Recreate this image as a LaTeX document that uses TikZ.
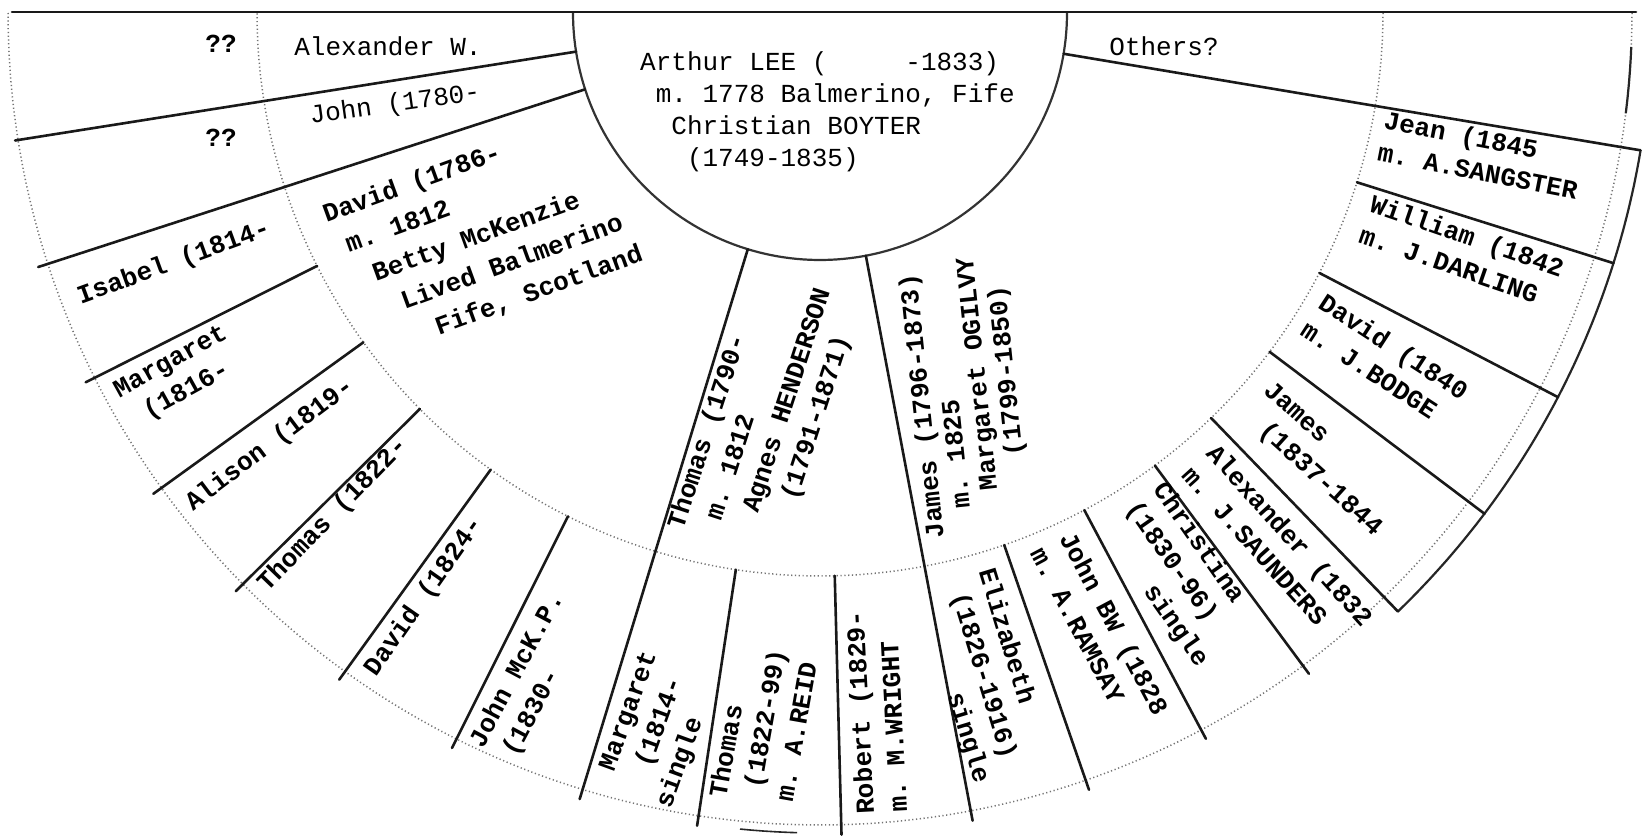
\documentclass[tikz,border=0pt]{standalone}
\usepackage{fontspec}
\newfontfamily\tw{Liberation Mono}
\newcommand\tind[1]{\hspace*{#1\dimexpr0.6em\relax}}
\begin{document}
\begin{tikzpicture}[x=1pt,y=-1pt,
  lbl/.style={font=\tw\bfseries\fontsize{26}{33}\selectfont\frenchspacing, inner sep=0pt, align=left, text=black},
  plain/.style={font=\tw\fontsize{26}{33}\selectfont\frenchspacing},
  rline/.style={line width=2.6pt, line cap=round, black!90},
  dotted ring/.style={line width=1.5pt, black!55, dash pattern=on 1.2pt off 2.6pt},
  hub/.style={line width=2.2pt, black!80},
  rim/.style={line width=2.2pt, black!85}]
\useasboundingbox (0,0) rectangle (1648,838);
\fill[white] (0,0) rectangle (1648,838);
% rings
\draw[dotted ring] plot[domain=0:180,samples=150] ({820+812*cos(\x)},{13+812*sin(\x)});
\draw[dotted ring] plot[domain=0:180,samples=150] ({820+563*cos(\x)},{13+563*sin(\x)});
\draw[hub] plot[domain=0:180,samples=120] ({820+247*cos(\x)},{13+247*sin(\x)});
% solid rim pieces
\draw[rim] plot[domain=9.5:46,samples=60] ({820+832*cos(\x)},{13+832*sin(\x)});
\draw[rim] plot[domain=2.4:7.1,samples=20] ({820+812*cos(\x)},{13+812*sin(\x)});
\draw[rim, line width=1.6pt] plot[domain=91.6:95.6,samples=20] ({820+820*cos(\x)},{13+820*sin(\x)});
% top line
\draw[rline] (12,12) -- (1636,12);
% radial lines
\foreach \a/\ra/\rb in {171/247/815, 162/247/822, 153.3/563/822, 144.2/563/822,
  135.3/563/822, 125.8/563/822, 116.6/563/822, 107/247/822, 98.6/563/822,
  88.5/563/822, 79.3/247/822, 70.9/563/822, 62/563/822, 53.5/563/822,
  46/563/832, 37/563/832, 27.5/563/832, 17.5/563/832, 9.5/247/832}
  \draw[rline] ({820+\ra*cos(\a)},{13+\ra*sin(\a)}) -- ({820+\rb*cos(\a)},{13+\rb*sin(\a)});
% centre
\node[lbl, plain, anchor=north west, font=\tw\fontsize{26}{32}\selectfont\frenchspacing] (root) at (640,51)
  {Arthur LEE (\tind{5}-1833)\\\tind{1}m. 1778 Balmerino, Fife\\\tind{2}Christian BOYTER\\\tind{3}(1749-1835)};
% children ring
\node[lbl, plain] (alexw) at (388,46) {Alexander W.};
\node[lbl, plain, rotate=8] (john) at (395,105) {John (1780-};
\node[lbl, rotate=20, font=\tw\bfseries\fontsize{26}{36}\selectfont\frenchspacing] (david) at (483,235)
  {David (1786-\\\tind{0.7}m. 1812\\\tind{1.7}Betty McKenzie\\\tind{2.8}Lived Balmerino\\\tind{4.3}Fife, Scotland};
\node[lbl, rotate=72] (thomas) at (766,414)
  {Thomas (1790-\\\tind{1.3}m. 1812\\\tind{2.5}Agnes HENDERSON\\\tind{4}(1791-1871)};
\node[lbl, rotate=96, font=\tw\bfseries\fontsize{26}{29}\selectfont\frenchspacing] (james) at (966,396)
  {James (1796-1873)\\\tind{1.7}m. 1825\\\tind{2.7}Margaret OGILVY\\\tind{4.7}(1799-1850)};
\node[lbl, plain] (others) at (1164,46) {Others?};
% grandchildren ring
\node[lbl] (q1) at (221,44) {??};
\node[lbl] (q2) at (221,138) {??};
\node[lbl, rotate=20] (isabel) at (174,263) {Isabel (1814-};
\node[lbl, rotate=29] (marg16) at (179,377) {Margaret\\\tind{1}(1816-};
\node[lbl, rotate=37] (alison) at (270,445) {Alison (1819-};
\node[lbl, rotate=46] (thom22) at (333,515) {Thomas (1822-};
\node[lbl, rotate=55] (dav24) at (424,597) {David (1824-};
\node[lbl, rotate=62] (johnmck) at (532,678) {John McK.P.\\\tind{0.5}(1830-};
\node[lbl, rotate=70] (marg14) at (658,730) {\tind{1}Margaret\\\tind{2}(1814-\\single};
\node[lbl, rotate=80] (thom99) at (763,726) {Thomas\\\tind{1}(1822-99)\\\tind{0.5}m. A.REID};
\node[lbl, rotate=93] (robert) at (876,712) {Robert (1829-\\m. M.WRIGHT};
\node[lbl, rotate=-73] (eliz) at (983,676) {Elizabeth\\\tind{1}(1826-1916)\\\tind{7}single};
\node[lbl, rotate=-62] (johnbw) at (1100,631) {John BW (1828\\m. A.RAMSAY};
\node[lbl, rotate=-55] (christ) at (1180,575) {Christina\\(1830-96)\\\tind{5}single};
\node[lbl, rotate=-48] (alex32) at (1278,546) {Alexander (1832\\m. J.SAUNDERS};
\node[lbl, rotate=-42] (jam37) at (1322,460) {James\\\tind{1.5}(1837-1844};
\node[lbl, rotate=-33] (dav40) at (1385,360) {David (1840\\m. J.BODGE};
\node[lbl, rotate=-19] (will) at (1462,251) {William (1842\\m. J.DARLING};
\node[lbl, rotate=-11] (jean) at (1481,155) {Jean (1845\\m. A.SANGSTER};
\end{tikzpicture}
\end{document}
